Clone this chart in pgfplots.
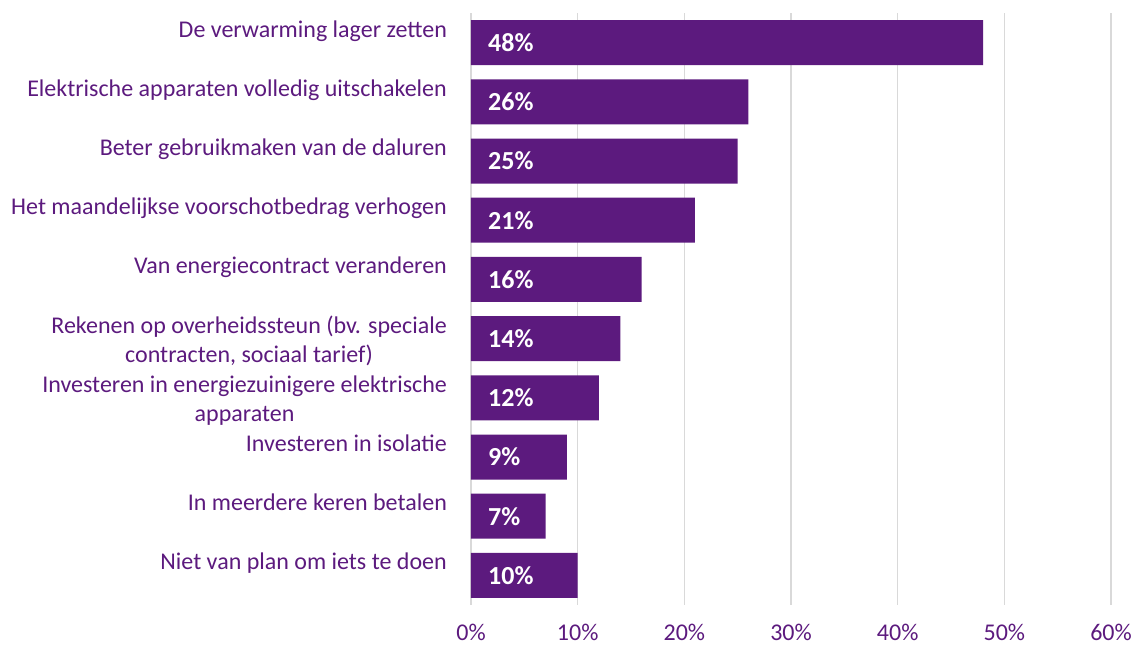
\documentclass[border=0pt]{standalone}
\usepackage{pgfplots}
\pgfplotsset{compat=1.18}
\usepackage{fontspec}
\setmainfont{Carlito}
\definecolor{barc}{HTML}{5C1A7E}
\definecolor{txtc}{HTML}{5C1A7E}
\definecolor{gridc}{HTML}{D9D9D9}
\begin{document}
\begin{tikzpicture}[x=1pt,y=1pt]
\path[use as bounding box] (-471,-41) rectangle (669,605);
\begin{axis}[
  at={(0,0)}, anchor=south west,
  scale only axis, width=640pt, height=592pt,
  xmin=0, xmax=60, ymin=-0.5, ymax=9.5, y dir=reverse,
  axis line style={draw=none},
  tick style={draw=none},
  xmajorgrids, grid style={draw=gridc, line width=1.5pt},
  xtick={0,10,...,60},
  xticklabels={0\%,10\%,20\%,30\%,40\%,50\%,60\%},
  ytick={0,...,9},
  yticklabels={
    \strut De verwarming lager zetten,
    \strut Elektrische apparaten volledig uitschakelen,
    \strut Beter gebruikmaken van de daluren,
    \strut Het maandelijkse voorschotbedrag verhogen,
    \strut Van energiecontract veranderen,
    {\strut Rekenen op overheidssteun (bv. speciale\\contracten, sociaal tarief)},
    {\strut Investeren in energiezuinigere elektrische\\apparaten},
    \strut Investeren in isolatie,
    \strut In meerdere keren betalen,
    \strut Niet van plan om iets te doen},
  yticklabel style={anchor=north east, align=center, inner sep=0pt, xshift=-24pt, yshift=26pt,
    font=\fontsize{24}{29}\selectfont, text=txtc},
  xticklabel style={anchor=north, inner sep=0pt, yshift=-19pt,
    font=\fontsize{24}{29}\selectfont, text=txtc},
]
\addplot[xbar, bar width=0.76, fill=barc, draw=none] coordinates {
  (48,0) (26,1) (25,2) (21,3) (16,4) (14,5) (12,6) (9,7) (7,8) (10,9)};
\addplot[draw=none, mark=none, nodes near coords, point meta=explicit symbolic,
  nodes near coords style={anchor=west, inner sep=0pt, xshift=17pt,
    font=\bfseries\fontsize{26}{30}\selectfont, text=white}] coordinates {
  (0,0) [48\%] (0,1) [26\%] (0,2) [25\%] (0,3) [21\%] (0,4) [16\%]
  (0,5) [14\%] (0,6) [12\%] (0,7) [9\%] (0,8) [7\%] (0,9) [10\%]};
\end{axis}
\end{tikzpicture}
\end{document}
